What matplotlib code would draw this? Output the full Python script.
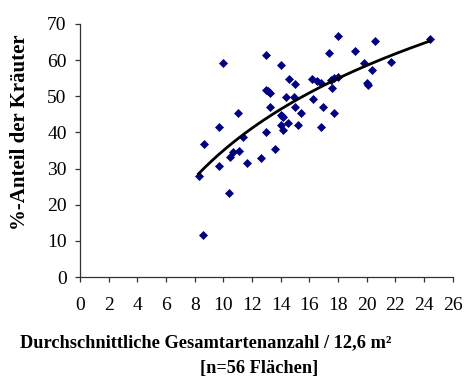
import numpy as np
import matplotlib
matplotlib.use("Agg")
import matplotlib.pyplot as plt

# Data
artenanzahl = [8.27, 8.55, 8.67, 9.67, 9.67, 10.0, 10.4, 10.5, 10.7, 11.0,
               11.1, 11.4, 11.66, 12.6, 13.0, 13.0, 13.0, 13.24, 13.24, 13.6,
               14.0, 14.0, 14.2, 14.0, 14.2, 14.5, 14.4, 14.9, 14.6, 15.0,
               15.0, 15.2, 15.4, 16.2, 16.55, 16.8, 16.24, 16.97, 16.85, 17.4,
               17.5, 17.75, 18.0, 17.6, 17.7, 18.0, 19.2, 19.85, 20.35, 20.6,
               20.05, 20.1, 21.7, 24.4, 14.1, 13.1]
kraeuter_anteil = [28.0, 11.6, 36.8, 41.6, 30.8, 59.2, 23.2, 33.3, 34.7, 45.5,
                   34.9, 38.8, 31.5, 32.8, 61.5, 51.8, 40.1, 50.9, 47.0, 35.5,
                   58.7, 44.9, 44.4, 42.1, 40.8, 42.6, 49.9, 49.8, 54.8, 53.3,
                   47.0, 42.1, 45.5, 54.8, 54.1, 53.6, 49.3, 47.0, 41.6, 62.0,
                   54.4, 55.1, 55.3, 52.2, 45.4, 66.8, 62.4, 59.2, 57.2, 65.4,
                   53.8, 53.2, 59.5, 65.8, 44.6, 51.5]
x_ticks = list(range(0, 27, 2))
y_ticks = list(range(0, 71, 10))

x = np.array(artenanzahl)
y = np.array(kraeuter_anteil)

plt.rcParams['font.family'] = ['Liberation Serif', 'DejaVu Serif']

fig = plt.figure(figsize=(4.67, 3.76), dpi=100)
W, H = 467, 376
ax = fig.add_axes([80 / W, 1 - 277 / H, (452.6 - 80) / W, (277 - 24) / H])

ax.plot(x, y, linestyle='none', marker='D', markersize=4.3,
        markerfacecolor='#000080', markeredgecolor='#000080',
        markeredgewidth=0.5, zorder=3)

# logarithmic trendline (fitted to the data)
a, b = np.polyfit(np.log(x), y, 1)
xs = np.linspace(x.min(), x.max(), 200)
ax.plot(xs, a * np.log(xs) + b, color='black', linewidth=2.0, zorder=4)

ax.set_xlim(0, 26)
ax.set_ylim(0, 70)
ax.set_xticks(x_ticks)
ax.set_yticks(y_ticks)
ax.spines['top'].set_visible(False)
ax.spines['right'].set_visible(False)
for s in ['left', 'bottom']:
    ax.spines[s].set_linewidth(0.9)
    ax.spines[s].set_color('#333333')
ax.tick_params(axis='both', direction='out', length=3.6, width=0.9,
               color='#333333', labelsize=14)
ax.tick_params(axis='x', pad=11)
ax.tick_params(axis='y', pad=6)

fig.text(206 / W, 1 - 343 / H, 'Durchschnittliche Gesamtartenanzahl / 12,6 m²',
         ha='center', va='center', fontsize=13.2, fontweight='bold')
fig.text(259 / W, 1 - 369 / H, '[n=56 Flächen]',
         ha='center', va='center', fontsize=13.2, fontweight='bold')
fig.text(20 / W, 1 - 132 / H, '%-Anteil der Kräuter', rotation=90,
         ha='center', va='center', fontsize=15, fontweight='bold')

fig.savefig('out.png', dpi=100)
